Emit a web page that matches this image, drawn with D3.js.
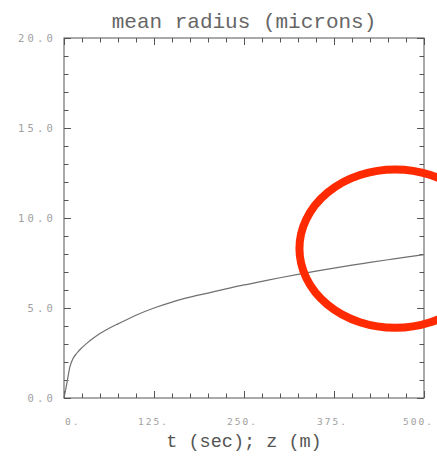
<!DOCTYPE html>
<html>
<head>
<meta charset="utf-8">
<script src="https://cdn.jsdelivr.net/npm/d3@7"></script>
<style>
  html, body { margin: 0; padding: 0; background: #fff; }
  svg { display: block; }
</style>
</head>
<body>
<svg id="chart" width="437" height="458"></svg>
<script>
// Mean droplet radius against time / height
const timeSec = [0, 2.5, 5, 8, 12, 18, 25, 32, 40, 50, 64, 75, 100, 125, 150, 175, 200, 225, 250, 275, 300, 325, 350, 375, 400, 425, 450, 475, 500];
const radiusMicrons = [0, 0.5, 1.05, 1.7, 2.15, 2.5, 2.8, 3.05, 3.3, 3.58, 3.9, 4.12, 4.6, 5.0, 5.33, 5.6, 5.83, 6.06, 6.28, 6.48, 6.68, 6.87, 7.05, 7.22, 7.38, 7.53, 7.68, 7.83, 7.97];

const xMajorTicks = [0, 125, 250, 375, 500];
const xTickLabels = ["0.", "125.", "250.", "375.", "500."];
const yMajorTicks = [0, 5, 10, 15, 20];
const yTickLabels = ["0.0", "5.0", "10.0", "15.0", "20.0"];
const xMinorStep = 25;
const yMinorStep = 1;

const titleText = "mean radius (microns)";
const xAxisTitle = "t (sec); z (m)";

// Highlight ring drawn over the tail of the curve (data units)
const highlight = { t: 460, r: 8.3, rt: 133, rr: 4.4 };

const svg = d3.select("#chart");
const plot = { left: 64, right: 424, top: 38, bottom: 398 };

const x = d3.scaleLinear().domain([0, 500]).range([plot.left, plot.right]);
const y = d3.scaleLinear().domain([0, 20]).range([plot.bottom, plot.top]);

const frameColor = "#555";
const majorLen = 7, minorLen = 4.5;

const xMinor = d3.range(0, 500 + 1e-9, xMinorStep).filter(v => !xMajorTicks.includes(v));
const yMinor = d3.range(0, 20 + 1e-9, yMinorStep).filter(v => !yMajorTicks.includes(v));

function styleAxis(g) {
  g.select(".domain").remove();
  g.selectAll(".tick line").attr("stroke", frameColor).attr("stroke-width", 1);
  g.selectAll(".tick text").remove();
}

// inward ticks on all four sides
const axes = [
  [d3.axisBottom(x), `translate(0,${plot.bottom})`, xMajorTicks, xMinor],
  [d3.axisTop(x), `translate(0,${plot.top})`, xMajorTicks, xMinor],
  [d3.axisLeft(y), `translate(${plot.left},0)`, yMajorTicks, yMinor],
  [d3.axisRight(y), `translate(${plot.right},0)`, yMajorTicks, yMinor]
];
axes.forEach(([axisFn, tr, major, minor]) => {
  svg.append("g").attr("transform", tr)
    .call(axisFn.tickValues(major).tickSize(-majorLen).tickFormat(""))
    .call(styleAxis);
  svg.append("g").attr("transform", tr)
    .call(axisFn.tickValues(minor).tickSize(-minorLen).tickFormat(""))
    .call(styleAxis);
});

// frame
svg.append("rect")
  .attr("x", plot.left).attr("y", plot.top)
  .attr("width", plot.right - plot.left).attr("height", plot.bottom - plot.top)
  .attr("fill", "none").attr("stroke", frameColor).attr("stroke-width", 1);

// curve
const line = d3.line()
  .x((d, i) => x(timeSec[i]))
  .y(d => y(d))
  .curve(d3.curveMonotoneX);

svg.append("path")
  .datum(radiusMicrons)
  .attr("d", line)
  .attr("fill", "none")
  .attr("stroke", "#707070")
  .attr("stroke-width", 1.2);

// tick labels
const tickFont = "'DejaVu Sans Mono', 'Liberation Mono', monospace";
const xLabelShift = [1, -16, -17, -17, -21];
svg.append("g").selectAll("text")
  .data(xMajorTicks)
  .join("text")
  .attr("x", (d, i) => x(d) + xLabelShift[i])
  .attr("y", 424.5)
  .attr("text-anchor", "start")
  .attr("font-family", tickFont)
  .attr("font-size", 9.5)
  .attr("letter-spacing", 2)
  .attr("fill", "#a0a0a0")
  .text((d, i) => xTickLabels[i]);

svg.append("g").selectAll("text")
  .data(yMajorTicks)
  .join("text")
  .attr("x", 56)
  .attr("y", d => y(d) + 4)
  .attr("text-anchor", "end")
  .attr("font-family", tickFont)
  .attr("font-size", 10.5)
  .attr("letter-spacing", 3.2)
  .attr("fill", "#a0a0a0")
  .text((d, i) => yTickLabels[i]);

// titles
svg.append("text")
  .attr("x", 244).attr("y", 28)
  .attr("text-anchor", "middle")
  .attr("font-family", "'Liberation Mono', 'Courier New', monospace")
  .attr("font-size", 21)
  .attr("fill", "#666")
  .text(titleText);

svg.append("text")
  .attr("x", 244).attr("y", 447)
  .attr("text-anchor", "middle")
  .attr("font-family", "'Liberation Mono', 'Courier New', monospace")
  .attr("font-size", 18.5)
  .attr("fill", "#555")
  .text(xAxisTitle);

// highlight ring
svg.append("ellipse")
  .attr("cx", x(highlight.t))
  .attr("cy", y(highlight.r))
  .attr("rx", x(highlight.t + highlight.rt) - x(highlight.t))
  .attr("ry", y(0) - y(highlight.rr))
  .attr("fill", "none")
  .attr("stroke", "#ff2a00")
  .attr("stroke-width", 8);
</script>
</body>
</html>
